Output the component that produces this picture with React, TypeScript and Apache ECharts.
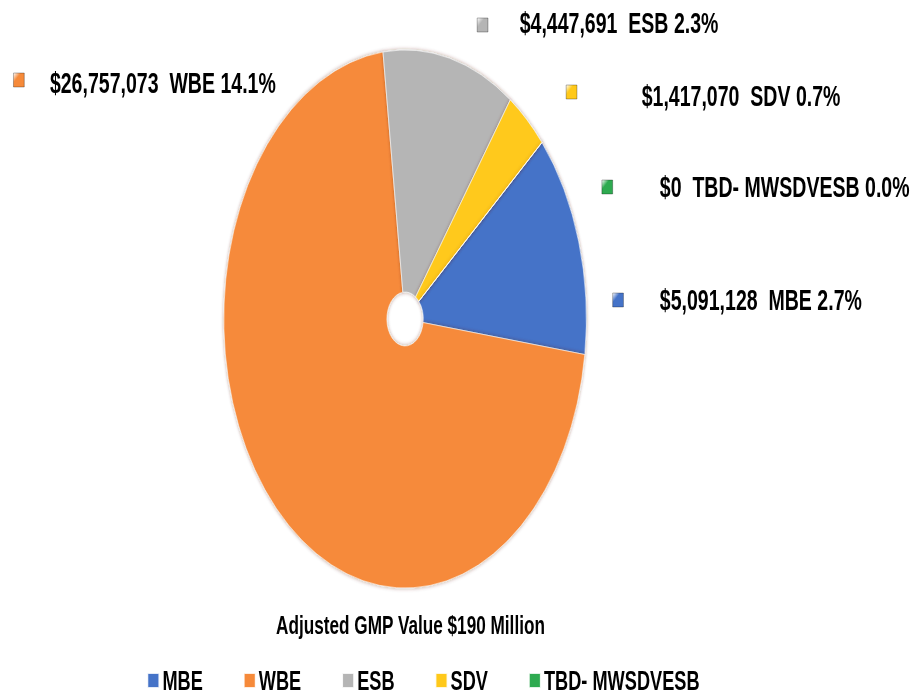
import React, { useEffect, useRef } from "react";
import * as echarts from "echarts";

// ---- data ----
const categories = ["MBE", "WBE", "ESB", "SDV", "TBD- MWSDVESB"];
const values = [5091128, 26757073, 4447691, 1417070, 0];
const colors = ["#4573C8", "#F68A3A", "#B5B5B5", "#FFC91A", "#2EAA50"];
const adjustedGMP = 190000000;
const titleText = "Adjusted GMP Value $190 Million";

// ---- layout (unscaled chart pixels) ----
const S = 0.674; // horizontal squeeze of the whole picture
const W = Math.round(911 / S);
const H = 698;
const labelTextX = [979, 74, 771, 952, 979];
const labelTextY = [300, 83, 23, 96, 187];
const markerX = [917, 28, 716, 848, 901];
const markerY = [300, 80, 25, 92, 187];

const FONT = '"Liberation Sans", Arial, sans-serif';

function fmtLabel(i: number) {
  const v = values[i];
  const pct = ((v / adjustedGMP) * 100).toFixed(1);
  return "$" + v.toLocaleString("en-US") + "  " + categories[i] + " " + pct + "%";
}

export default function App() {
  const ref = useRef<HTMLDivElement>(null);
  useEffect(() => {
    if (!ref.current) return;
    const chart = echarts.init(ref.current, undefined, { renderer: "svg" });
    const graphics: any[] = [];
    categories.forEach((_, i) => {
      graphics.push({
        type: "rect",
        shape: { x: markerX[i] - 8, y: markerY[i] - 7, width: 16, height: 14 },
        style: {
          fill: new echarts.graphic.LinearGradient(0, 0, 1, 1, [
            { offset: 0, color: "#ffffff" },
            { offset: 0.35, color: colors[i] },
            { offset: 1, color: colors[i] },
          ]),
          stroke: "rgba(0,0,0,0.35)",
          lineWidth: 1,
        },
      });
      graphics.push({
        type: "text",
        x: labelTextX[i],
        y: labelTextY[i],
        style: {
          text: fmtLabel(i),
          fontFamily: FONT,
          fontWeight: "bold",
          fontSize: 29,
          fill: "#000",
          align: "left",
          verticalAlign: "middle",
        },
      });
    });
    graphics.push({
      type: "text",
      x: 609,
      y: 625,
      style: {
        text: titleText,
        fontFamily: FONT,
        fontWeight: "bold",
        fontSize: 25.5,
        fill: "#000",
        align: "center",
        verticalAlign: "middle",
      },
    });

    chart.setOption({
      animation: false,
      backgroundColor: "#fff",
      color: colors,
      legend: {
        data: categories,
        left: 218,
        top: 667,
        padding: 0,
        itemGap: 60,
        itemWidth: 17,
        itemHeight: 15,
        icon: "rect",
        textStyle: { fontFamily: FONT, fontSize: 27, fontWeight: "bold", color: "#000" },
      },
      graphic: graphics,
      series: [
        {
          type: "pie",
          center: [601, 319],
          radius: [27, 269],
          startAngle: 41,
          clockwise: true,
          label: { show: false },
          labelLine: { show: false },
          emphasis: { disabled: true },
          itemStyle: {
            borderColor: "rgba(255,255,255,0.85)",
            borderWidth: 0.8,
            shadowBlur: 4,
            shadowColor: "rgba(90,40,0,0.45)",
          },
          data: categories.map((c, i) => ({ name: c, value: values[i] })),
        },
      ],
    });
    return () => chart.dispose();
  }, []);

  return (
    <div
      style={{
        position: "fixed",
        left: 0,
        top: 0,
        width: 911,
        height: H,
        overflow: "hidden",
        background: "#fff",
      }}
    >
      <div
        ref={ref}
        style={{
          width: W,
          height: H,
          transform: `scaleX(${S})`,
          transformOrigin: "0 0",
        }}
      />
    </div>
  );
}
